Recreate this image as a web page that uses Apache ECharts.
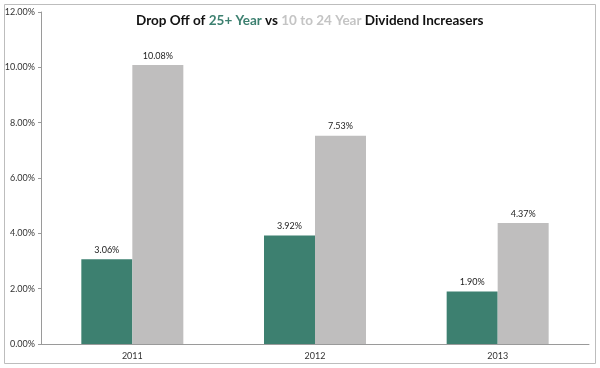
<!DOCTYPE html>
<html><head><meta charset="utf-8">
<script src="https://cdn.jsdelivr.net/npm/echarts@6/dist/echarts.min.js"></script>
<style>html,body{margin:0;padding:0;background:#fff}#c{width:600px;height:368px}</style>
</head><body><div id="c"></div>
<script>
const categories = ['2011', '2012', '2013'];
const years25 = [3.06, 3.92, 1.90];
const years10to24 = [10.08, 7.53, 4.37];
const yTicks = [0, 2, 4, 6, 8, 10, 12];

const chart = echarts.init(document.getElementById('c'));
const lbl = {show: true, position: 'top', distance: 5, fontFamily: 'Lato', fontSize: 9, color: '#222', formatter: p => p.value.toFixed(2) + '%'};
chart.setOption({
  animation: false,
  backgroundColor: '#fff',
  graphic: [{type: 'rect', shape: {x: 4.5, y: 4.5, width: 591, height: 359}, style: {fill: 'none', stroke: '#bdbdbd', lineWidth: 1}, z: -1}],
  title: {
    left: 131, top: 9,
    text: '{a|Drop Off of }{g|25+ Year}{a| vs }{s|10 to 24 Year}{a| Dividend Increasers}',
    textStyle: {
      rich: {
        a: {fontFamily: 'Lato', fontWeight: 'bold', fontSize: 13.5, color: '#111'},
        g: {fontFamily: 'Lato', fontWeight: 'bold', fontSize: 13.5, color: '#3d8070'},
        s: {fontFamily: 'Lato', fontWeight: 'bold', fontSize: 13.5, color: '#c4c4c4'}
      }
    }
  },
  grid: {left: 41, right: 11, top: 12, bottom: 24},
  xAxis: {
    type: 'category', data: categories,
    axisLine: {lineStyle: {color: '#9a9a9a'}},
    axisTick: {length: 3, lineStyle: {color: '#9a9a9a'}},
    axisLabel: {fontFamily: 'Lato', fontSize: 9, color: '#333', margin: 8}
  },
  yAxis: {
    type: 'value', min: yTicks[0], max: yTicks[yTicks.length - 1], interval: 2,
    axisLine: {show: true, lineStyle: {color: '#9a9a9a'}},
    axisTick: {show: true, length: 3, lineStyle: {color: '#9a9a9a'}},
    splitLine: {show: false},
    axisLabel: {fontFamily: 'Lato', fontSize: 9, color: '#333', margin: 6, formatter: v => v.toFixed(2) + '%'}
  },
  series: [
    {type: 'bar', name: '25+ Year', data: years25, barWidth: 51, barGap: '0%', itemStyle: {color: '#3d8070'}, label: lbl},
    {type: 'bar', name: '10 to 24 Year', data: years10to24, barWidth: 51, barGap: '0%', itemStyle: {color: '#bfbebe'}, label: lbl}
  ]
});
</script></body></html>
